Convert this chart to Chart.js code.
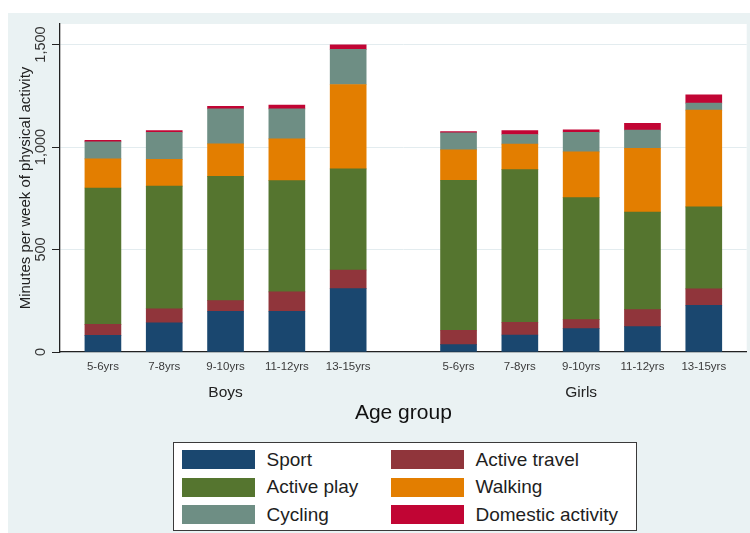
<!DOCTYPE html>
<html>
<head>
<meta charset="utf-8">
<title>Minutes per week of physical activity by age group</title>
<script src="https://cdn.jsdelivr.net/npm/chart.js@4.4.1/dist/chart.umd.min.js"></script>
<style>
  body { margin: 0; background: #fff; width: 750px; height: 533px; overflow: hidden;
         font-family: 'Liberation Sans', Arial, sans-serif; }
  #panel { position: absolute; left: 8px; top: 13px; width: 742px; height: 520px; background: #eaf2f3; }
  #legend { position: absolute; left: 173px; top: 442px; width: 464px; height: 89px; box-sizing: border-box;
            border: 1.5px solid #3a3a3a; background: #fff; padding: 3px 0 0 7.5px;
            display: grid; grid-template-columns: 209px 1fr; grid-auto-rows: 27.5px; }
  .item { display: flex; align-items: center; font-size: 19px; color: #1e1e1e; white-space: nowrap; }
  .swatch { width: 73px; height: 19px; margin-right: 12px; flex: none; }
</style>
</head>
<body>
<div id="panel"><canvas id="myChart"></canvas></div>
<div id="legend"></div>
<script>
// categories
const ageGroups = ['5-6yrs', '7-8yrs', '9-10yrs', '11-12yrs', '13-15yrs']
const sexGroups = ['Boys', 'Girls']

// minutes per week, boys first then girls (same order as ageGroups)
const sport = [81, 142, 199, 199, 309, 36, 83, 114, 124, 228]
const activeTravel = [54, 68, 52, 94, 91, 70, 62, 44, 83, 80]
const activePlay = [665, 599, 606, 543, 493, 732, 745, 595, 475, 400]
const walking = [142, 131, 158, 204, 412, 148, 124, 223, 312, 472]
const cycling = [83, 132, 171, 146, 171, 83, 47, 96, 88, 34]
const domestic = [7, 8, 13, 18, 22, 6, 19, 12, 33, 40]

const yTicks = [0, 500, 1000, 1500]

const seriesNames = ['Sport', 'Active travel', 'Active play', 'Walking', 'Cycling', 'Domestic activity']
const seriesValues = [sport, activeTravel, activePlay, walking, cycling, domestic]
const seriesColors = ['#1a476f', '#90353b', '#55752f', '#e37e00', '#6e8e84', '#c10534']

// the x axis is cut into narrow slots so the gap between Boys and Girls
// and the outer margins come out like the Stata layout
const LEAD = 3
const STEP = 5
const GAP = 9
const TAIL = 3
const nSlots = LEAD + 2 * (ageGroups.length - 1) * STEP + GAP + TAIL + 1
const slotOf = (g, i) => LEAD + g * ((ageGroups.length - 1) * STEP + GAP) + i * STEP

const slotLabels = new Array(nSlots).fill('')
const groupLabels = new Array(nSlots).fill('')
sexGroups.forEach((sex, g) => {
  ageGroups.forEach((age, i) => { slotLabels[slotOf(g, i)] = age })
  groupLabels[slotOf(g, Math.floor(ageGroups.length / 2))] = sex
})

function toSlots (values) {
  const out = new Array(nSlots).fill(null)
  sexGroups.forEach((sex, g) => {
    ageGroups.forEach((age, i) => { out[slotOf(g, i)] = values[g * ageGroups.length + i] })
  })
  return out
}

const datasets = seriesNames.map((name, k) => ({
  label: name,
  data: toSlots(seriesValues[k]),
  backgroundColor: seriesColors[k],
  borderWidth: 0,
  barThickness: 36
}))

// white plot region on the bluish graph region
const plotBackground = {
  id: 'plotBackground',
  beforeDraw (chart) {
    const { ctx, chartArea } = chart
    ctx.save()
    ctx.fillStyle = '#ffffff'
    ctx.fillRect(chartArea.left, chartArea.top, chartArea.right - chartArea.left, chartArea.bottom - chartArea.top)
    ctx.restore()
  }
}

Chart.defaults.font.family = "'Liberation Sans', Arial, sans-serif"

const chart = new Chart(document.getElementById('myChart'), {
  type: 'bar',
  data: { labels: slotLabels, datasets },
  plugins: [plotBackground],
  options: {
    responsive: true,
    maintainAspectRatio: false,
    animation: false,
    layout: { padding: { top: 11, right: 0, bottom: 0, left: 0 } },
    plugins: {
      legend: { display: false },
      tooltip: { enabled: false }
    },
    scales: {
      x: {
        stacked: true,
        offset: true,
        grid: { display: false, drawTicks: false },
        border: { display: true, color: '#222', width: 1.3 },
        ticks: { autoSkip: false, maxRotation: 0, minRotation: 0, padding: 8, color: '#3a3a3a', font: { size: 11.5 } },
        afterFit (scale) { scale.height = 22 }
      },
      x2: {
        type: 'category',
        position: 'bottom',
        labels: groupLabels,
        offset: true,
        weight: 1,
        grid: { display: false, drawTicks: false },
        border: { display: false },
        ticks: { autoSkip: false, maxRotation: 0, minRotation: 0, padding: 9.4, color: '#222', font: { size: 15.5 } },
        title: { display: true, text: 'Age group', color: '#111', font: { size: 21 }, padding: { top: 0, bottom: 107 } },
        afterFit (scale) { scale.height = 159 }
      },
      y: {
        stacked: true,
        min: 0,
        max: 1600,
        afterBuildTicks (scale) { scale.ticks = yTicks.map(v => ({ value: v })) },
        grid: { color: '#e3ecef', tickColor: '#222', tickLength: 8, lineWidth: 1 },
        border: { display: true, color: '#222', width: 1.3 },
        ticks: {
          minRotation: 90,
          maxRotation: 90,
          crossAlign: 'center',
          padding: -7,
          color: '#333',
          font: { size: 14.5 },
          callback: (v) => v.toLocaleString('en-US')
        },
        title: { display: true, text: 'Minutes per week of physical activity', color: '#222', font: { size: 15 }, padding: { top: 8.5, bottom: 0 } },
        afterFit (scale) { scale.width = 52 }
      }
    }
  }
})

// legend box in two columns, built from the chart's datasets
const legendEl = document.getElementById('legend')
chart.data.datasets.forEach((ds) => {
  const item = document.createElement('div')
  item.className = 'item'
  const sw = document.createElement('span')
  sw.className = 'swatch'
  sw.style.background = ds.backgroundColor
  item.appendChild(sw)
  item.appendChild(document.createTextNode(ds.label))
  legendEl.appendChild(item)
})
</script>
</body>
</html>
